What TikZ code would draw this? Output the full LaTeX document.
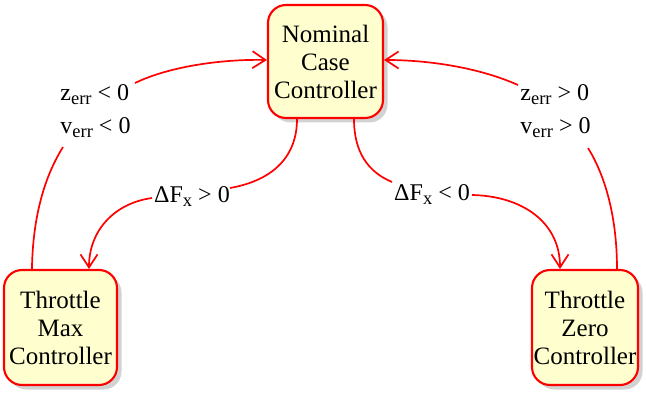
\documentclass[tikz,border=0pt]{standalone}
\usepackage{fontspec}
\setmainfont{Liberation Serif}
\usetikzlibrary{arrows.meta,shadows}
\definecolor{yellowfill}{HTML}{FEFECE}
\newcommand\subtxt[1]{\raisebox{-4.5pt}{\fontsize{18.5}{18.5}\selectfont #1}}
\begin{document}
\begin{tikzpicture}[x=1pt,y=-1pt,
  state/.style={draw=red, line width=2.1pt, fill=yellowfill, rounded corners=18pt,
    inner sep=0pt, align=center, font=\fontsize{25}{28}\selectfont,
    drop shadow={shadow xshift=4.5pt, shadow yshift=-4.5pt, fill=black!35}},
  edge/.style={draw=red, line width=1.7pt},
  arr/.style={-{Straight Barb[length=13pt,width=17pt,line width=1.7pt]}},
  lbl/.style={inner sep=0pt, font=\fontsize{24}{33}\selectfont, align=left}]
\useasboundingbox (0,0) rectangle (646,396);

\node[state, minimum width=115pt, minimum height=113pt] (nom) at (325.5,61.5) {Nominal\\Case\\Controller};
\node[state, minimum width=113pt, minimum height=115pt] (max) at (60.5,327.5) {Throttle\\Max\\Controller};
\node[state, minimum width=106pt, minimum height=115pt] (zero) at (585,327.5) {Throttle\\Zero\\Controller};

\node[lbl] (ll) at (95.5,111) {z\subtxt{err} < 0\\v\subtxt{err} < 0};
\node[lbl] (rl) at (555.5,111) {z\subtxt{err} > 0\\v\subtxt{err} > 0};
\node[lbl, anchor=base] (dl) at (192,202) {ΔF\subtxt{x} > 0};
\node[lbl, anchor=base] (dr) at (432,200) {ΔF\subtxt{x} < 0};

\coordinate (g1a) at (63,147);
\coordinate (g1b) at (135,83);
\coordinate (g2a) at (230,188);
\coordinate (g2b) at (152,198);
\coordinate (g3a) at (392,182);
\coordinate (g3b) at (472,195);
\coordinate (g4a) at (588,148);
\coordinate (g4b) at (518,85);

% Max -> Nominal
\draw[edge] ([xshift=29pt]max.north west) .. controls (33,205) and (50,168) .. (g1a);
\draw[edge,arr] (g1b) .. controls (168,67) and (220,59) .. ([yshift=1.5pt]nom.west);
% Nominal -> Max
\draw[edge] ([xshift=-28.5pt]nom.south) .. controls (297,155) and (275,180) .. (g2a);
\draw[edge,arr] (g2b) .. controls (115,203) and (89,230) .. ([xshift=28.5pt]max.north);
% Nominal -> Zero
\draw[edge] ([xshift=28.5pt]nom.south) .. controls (354,152) and (368,172) .. (g3a);
\draw[edge,arr] (g3b) .. controls (522,196) and (560,222) .. ([xshift=-25pt]zero.north);
% Zero -> Nominal
\draw[edge] ([xshift=32pt]zero.north) .. controls (617,212) and (603,172) .. (g4a);
\draw[edge,arr] (g4b) .. controls (480,68) and (430,60) .. ([yshift=1.5pt]nom.east);
\end{tikzpicture}
\end{document}
